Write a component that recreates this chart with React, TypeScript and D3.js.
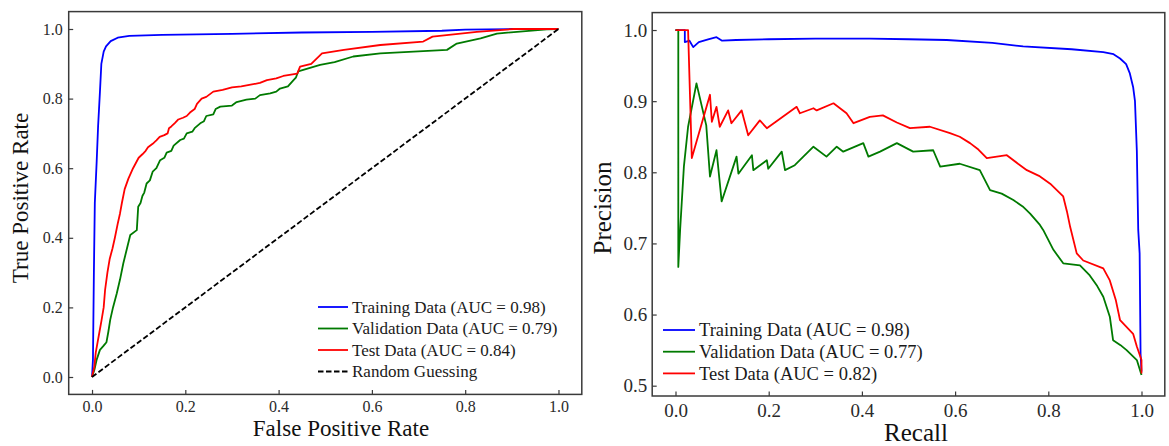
import React, { useEffect, useRef } from 'react';
import * as d3 from 'd3';

type Pt = [number, number];

// ---- data ----
const rocTicks = [0, 0.2, 0.4, 0.6, 0.8, 1.0];
const prXTicks = [0, 0.2, 0.4, 0.6, 0.8, 1.0];
const prYTicks = [0.5, 0.6, 0.7, 0.8, 0.9, 1.0];

const rocTrain: Pt[] = [
  [0, 0], [0.002, 0.05], [0.004, 0.3], [0.006, 0.5], [0.01, 0.62], [0.013, 0.72],
  [0.017, 0.82], [0.02, 0.9], [0.025, 0.935], [0.03, 0.95], [0.04, 0.965], [0.055, 0.975],
  [0.08, 0.98], [0.15, 0.983], [0.3, 0.986], [0.45, 0.99], [0.6, 0.992], [0.75, 0.995],
  [0.8, 0.998], [0.9, 1.0], [1, 1],
];

const rocVal: Pt[] = [
  [0, 0], [0.005, 0.02], [0.01, 0.05], [0.017, 0.078], [0.025, 0.09], [0.031, 0.1],
  [0.035, 0.13], [0.039, 0.164], [0.045, 0.2], [0.053, 0.24], [0.06, 0.28], [0.067, 0.326],
  [0.075, 0.37], [0.082, 0.408], [0.096, 0.422], [0.099, 0.489], [0.104, 0.5], [0.108, 0.52],
  [0.112, 0.53], [0.117, 0.556], [0.124, 0.565], [0.13, 0.59], [0.138, 0.6], [0.146, 0.623],
  [0.155, 0.63], [0.16, 0.645], [0.17, 0.65], [0.175, 0.665], [0.189, 0.681], [0.197, 0.685],
  [0.203, 0.7], [0.215, 0.705], [0.22, 0.715], [0.232, 0.729], [0.24, 0.735], [0.245, 0.75],
  [0.26, 0.755], [0.265, 0.77], [0.275, 0.777], [0.3, 0.78], [0.31, 0.79], [0.331, 0.797],
  [0.35, 0.8], [0.36, 0.81], [0.382, 0.815], [0.395, 0.82], [0.403, 0.829], [0.42, 0.835],
  [0.432, 0.853], [0.437, 0.86], [0.442, 0.878], [0.489, 0.897], [0.52, 0.905], [0.56, 0.921],
  [0.618, 0.93], [0.761, 0.94], [0.782, 0.958], [0.833, 0.973], [0.868, 0.987], [0.975, 0.999],
  [1, 1],
];

const rocTest: Pt[] = [
  [0, 0], [0.005, 0.03], [0.008, 0.07], [0.012, 0.1], [0.016, 0.13], [0.02, 0.16],
  [0.025, 0.2], [0.028, 0.25], [0.033, 0.3], [0.038, 0.34], [0.044, 0.37], [0.049, 0.4],
  [0.055, 0.44], [0.06, 0.47], [0.064, 0.5], [0.07, 0.54], [0.078, 0.57], [0.088, 0.6],
  [0.1, 0.63], [0.108, 0.64], [0.115, 0.65], [0.12, 0.66], [0.13, 0.67], [0.138, 0.68],
  [0.145, 0.69], [0.155, 0.695], [0.162, 0.7], [0.165, 0.715], [0.17, 0.72], [0.178, 0.73],
  [0.185, 0.74], [0.195, 0.745], [0.203, 0.75], [0.21, 0.76], [0.22, 0.77], [0.225, 0.785],
  [0.235, 0.8], [0.245, 0.805], [0.26, 0.82], [0.28, 0.825], [0.3, 0.832], [0.32, 0.835],
  [0.34, 0.84], [0.36, 0.845], [0.375, 0.853], [0.395, 0.858], [0.41, 0.865], [0.44, 0.872],
  [0.446, 0.892], [0.47, 0.9], [0.493, 0.93], [0.54, 0.94], [0.618, 0.954], [0.71, 0.964],
  [0.73, 0.978], [0.825, 0.992], [0.904, 1.0], [1, 1],
];

const rocChance: Pt[] = [[0, 0], [1, 1]];

const prTrain: Pt[] = [
  [0, 1], [0.02, 1], [0.02, 0.983], [0.03, 0.985], [0.038, 0.976], [0.05, 0.983],
  [0.07, 0.987], [0.088, 0.99], [0.1, 0.985], [0.13, 0.986], [0.2, 0.987], [0.3, 0.988],
  [0.417, 0.988], [0.5, 0.987], [0.582, 0.986], [0.68, 0.982], [0.746, 0.977], [0.85, 0.973],
  [0.918, 0.969], [0.94, 0.966], [0.954, 0.96], [0.967, 0.952], [0.975, 0.939], [0.982, 0.92],
  [0.986, 0.9], [0.99, 0.83], [0.993, 0.719], [0.996, 0.686], [0.998, 0.545], [1, 0.52],
];

const prVal: Pt[] = [
  [0, 1], [0.006, 1], [0.006, 0.667], [0.01, 0.72], [0.018, 0.808], [0.027, 0.864],
  [0.045, 0.925], [0.066, 0.866], [0.074, 0.794], [0.088, 0.831], [0.099, 0.759], [0.131, 0.822],
  [0.135, 0.798], [0.164, 0.824], [0.167, 0.803], [0.196, 0.817], [0.199, 0.805], [0.228, 0.829],
  [0.235, 0.803], [0.256, 0.81], [0.296, 0.836], [0.324, 0.822], [0.346, 0.836], [0.36, 0.829],
  [0.403, 0.841], [0.414, 0.822], [0.439, 0.829], [0.475, 0.841], [0.51, 0.829], [0.553, 0.831],
  [0.568, 0.808], [0.61, 0.812], [0.653, 0.803], [0.675, 0.775], [0.7, 0.77], [0.725, 0.761],
  [0.745, 0.752], [0.761, 0.742], [0.782, 0.726], [0.789, 0.719], [0.8, 0.705], [0.811, 0.691],
  [0.832, 0.672], [0.868, 0.669], [0.889, 0.655], [0.905, 0.64], [0.918, 0.625], [0.932, 0.597],
  [0.939, 0.564], [0.955, 0.557], [0.968, 0.55], [0.99, 0.536], [1.0, 0.515],
];

const prTest: Pt[] = [
  [0, 1], [0.027, 1], [0.035, 0.82], [0.074, 0.909], [0.078, 0.871], [0.088, 0.892],
  [0.095, 0.864], [0.113, 0.887], [0.12, 0.869], [0.142, 0.887], [0.156, 0.852], [0.181, 0.873],
  [0.196, 0.862], [0.26, 0.892], [0.267, 0.883], [0.296, 0.89], [0.303, 0.887], [0.339, 0.897],
  [0.367, 0.883], [0.382, 0.869], [0.417, 0.878], [0.445, 0.88], [0.475, 0.87], [0.503, 0.862],
  [0.546, 0.864], [0.589, 0.855], [0.61, 0.85], [0.632, 0.841], [0.65, 0.832], [0.668, 0.82],
  [0.711, 0.824], [0.735, 0.812], [0.754, 0.803], [0.78, 0.795], [0.804, 0.784], [0.832, 0.766],
  [0.84, 0.745], [0.847, 0.723], [0.861, 0.686], [0.875, 0.676], [0.918, 0.665], [0.932, 0.648],
  [0.945, 0.62], [0.954, 0.592], [0.982, 0.573], [0.99, 0.555], [1.0, 0.536], [1.0, 0.517],
];

const rocLegend = [
  'Training Data (AUC = 0.98)',
  'Validation Data (AUC = 0.79)',
  'Test Data (AUC = 0.84)',
  'Random Guessing',
];
const prLegend = [
  'Training Data (AUC = 0.98)',
  'Validation Data (AUC = 0.77)',
  'Test Data (AUC = 0.82)',
];

const FONT = '"Liberation Serif", "Times New Roman", serif';
const FRAME = '#3a3a3a';

function drawPanel(svg: any, o: any) {
  const x = d3.scaleLinear().domain(o.xDomain).range(o.xRange);
  const y = d3.scaleLinear().domain(o.yDomain).range(o.yRange);
  const g = svg.append('g');

  const line = d3.line<Pt>().x((d) => x(d[0])).y((d) => y(d[1]));

  o.series.forEach((s: any) => {
    g.append('path')
      .datum(s.data)
      .attr('d', line)
      .attr('fill', 'none')
      .attr('stroke', s.color)
      .attr('stroke-width', s.width || 1.8)
      .attr('stroke-dasharray', s.dash || null)
      .attr('stroke-linejoin', 'round');
  });

  // frame
  g.append('rect')
    .attr('x', o.xRange[0])
    .attr('y', o.yRange[1])
    .attr('width', o.xRange[1] - o.xRange[0])
    .attr('height', o.yRange[0] - o.yRange[1])
    .attr('fill', 'none')
    .attr('stroke', FRAME)
    .attr('stroke-width', 1.5);

  const xAxis = g
    .append('g')
    .attr('transform', `translate(0, ${o.yRange[0]})`)
    .call(
      d3.axisBottom(x).tickValues(o.xTicks).tickFormat(d3.format('.1f'))
        .tickSizeInner(-4.5).tickSizeOuter(0).tickPadding(o.xPad)
    );
  const yAxis = g
    .append('g')
    .attr('transform', `translate(${o.xRange[0]}, 0)`)
    .call(
      d3.axisLeft(y).tickValues(o.yTicks).tickFormat(d3.format('.1f'))
        .tickSizeInner(-4.5).tickSizeOuter(0).tickPadding(o.yPad)
    );
  [xAxis, yAxis].forEach((a) => {
    a.select('.domain').remove();
    a.selectAll('line').attr('stroke', FRAME).attr('stroke-width', 1.2);
    a.selectAll('text')
      .attr('fill', '#2a2a2a')
      .style('font-family', FONT)
      .style('font-size', `${o.tickSize}px`);
  });

  g.append('text')
    .attr('x', o.xLabelPos[0])
    .attr('y', o.xLabelPos[1])
    .attr('text-anchor', 'middle')
    .style('font-family', FONT)
    .style('font-size', `${o.labelSize}px`)
    .attr('fill', '#111')
    .text(o.xLabel);

  g.append('text')
    .attr('transform', `translate(${o.yLabelPos[0]}, ${o.yLabelPos[1]}) rotate(-90)`)
    .attr('text-anchor', 'middle')
    .style('font-family', FONT)
    .style('font-size', `${o.labelSize}px`)
    .attr('fill', '#111')
    .text(o.yLabel);

  // legend
  const lg = g.append('g');
  o.legend.forEach((label: string, i: number) => {
    const s = o.series[i];
    const ly = o.legendY + i * o.legendStep;
    lg.append('line')
      .attr('x1', o.legendX[0])
      .attr('x2', o.legendX[1])
      .attr('y1', ly)
      .attr('y2', ly)
      .attr('stroke', s.color)
      .attr('stroke-width', s.width || 1.8)
      .attr('stroke-dasharray', s.dash || null);
    lg.append('text')
      .attr('x', o.legendX[1] + 4)
      .attr('y', ly)
      .attr('dy', '0.35em')
      .style('font-family', FONT)
      .style('font-size', `${o.legendSize}px`)
      .attr('fill', '#1a1a1a')
      .text(label);
  });
}

export default function App() {
  const ref = useRef<SVGSVGElement>(null);

  useEffect(() => {
    const svg = d3.select(ref.current);
    svg.selectAll('*').remove();

    drawPanel(svg, {
      xDomain: [-0.05, 1.05],
      xRange: [68.7, 581.8],
      yDomain: [-0.05, 1.05],
      yRange: [394.4, 11.6],
      xTicks: rocTicks,
      yTicks: rocTicks,
      xPad: 6,
      yPad: 6,
      tickSize: 16,
      labelSize: 23,
      legendSize: 17,
      xLabel: 'False Positive Rate',
      yLabel: 'True Positive Rate',
      xLabelPos: [341, 436],
      yLabelPos: [28, 198],
      legend: rocLegend,
      legendX: [318, 348],
      legendY: 307,
      legendStep: 21.5,
      series: [
        { data: rocTrain, color: '#0000ff' },
        { data: rocVal, color: '#007a00' },
        { data: rocTest, color: '#ff0000' },
        { data: rocChance, color: '#000000', dash: '5.5 2.5', width: 1.8 },
      ],
    });

    drawPanel(svg, {
      xDomain: [-0.05, 1.05],
      xRange: [652.2, 1164.8],
      yDomain: [0.4855, 1.0245],
      yRange: [396, 12.6],
      xTicks: prXTicks,
      yTicks: prYTicks,
      xPad: 8,
      yPad: 5,
      tickSize: 19,
      labelSize: 25,
      legendSize: 18.5,
      xLabel: 'Recall',
      yLabel: 'Precision',
      xLabelPos: [916, 441],
      yLabelPos: [611, 208],
      legend: prLegend,
      legendX: [663, 695],
      legendY: 330,
      legendStep: 21.7,
      series: [
        { data: prTrain, color: '#0000ff' },
        { data: prVal, color: '#007a00' },
        { data: prTest, color: '#ff0000' },
      ],
    });
  }, []);

  return (
    <svg
      ref={ref}
      width={1169}
      height={446}
      style={{ position: 'absolute', left: 0, top: 0, background: '#fff' }}
    />
  );
}
